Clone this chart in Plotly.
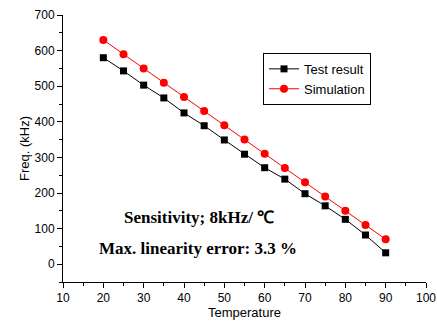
import plotly.graph_objects as go

temperature = [20, 25, 30, 35, 40, 45, 50, 55, 60, 65, 70, 75, 80, 85, 90]
test_result = [580, 543, 503, 467, 425, 389, 349, 309, 271, 239, 198, 164, 126, 82, 32]
simulation = [630, 590, 550, 510, 470, 430, 390, 350, 310, 270, 230, 190, 150, 110, 70]
x_ticks = [10, 20, 30, 40, 50, 60, 70, 80, 90, 100]
y_ticks = [0, 100, 200, 300, 400, 500, 600, 700]

fig = go.Figure()
fig.add_trace(go.Scatter(x=temperature, y=test_result, mode="lines+markers", name="Test result",
                         line=dict(color="black", width=1),
                         marker=dict(symbol="square", size=7, color="black")))
fig.add_trace(go.Scatter(x=temperature, y=simulation, mode="lines+markers", name="Simulation",
                         line=dict(color="red", width=1),
                         marker=dict(symbol="circle", size=8, color="red")))

axis_font = dict(family="Liberation Sans, Arial", size=12, color="black")
title_font = dict(family="Liberation Sans, Arial", size=13, color="black")
fig.update_layout(
    width=437, height=323,
    margin=dict(l=63, r=11, t=15, b=41),
    paper_bgcolor="white", plot_bgcolor="white",
    showlegend=True,
    legend=dict(x=0.551, y=0.858, xanchor="left", yanchor="top",
                bgcolor="white", bordercolor="black", borderwidth=1,
                font=dict(family="Liberation Sans, Arial", size=13, color="black"),
                tracegroupgap=0, itemwidth=30),
    xaxis=dict(range=[10, 100], tickvals=x_ticks, showline=True, linecolor="black", linewidth=1,
               ticks="outside", ticklen=5, tickcolor="black", showgrid=False, zeroline=False,
               tickfont=axis_font, automargin=False,
               minor=dict(dtick=5, ticks="outside", ticklen=3, tickcolor="black", showgrid=False),
               title=dict(text="Temperature", font=title_font, standoff=3)),
    yaxis=dict(range=[-50, 700], tickvals=y_ticks, showline=True, linecolor="black", linewidth=1,
               ticks="outside", ticklen=5, tickcolor="black", showgrid=False, zeroline=False,
               tickfont=axis_font, automargin=False,
               minor=dict(tick0=0, dtick=50, ticks="outside", ticklen=3, tickcolor="black", showgrid=False),
               title=dict(text="Freq. (kHz)", font=title_font, standoff=2)),
)

ann_font = dict(family="Liberation Serif, Times New Roman", size=17, color="black")
fig.add_annotation(x=0.163, y=0.24, xref="paper", yref="paper", xanchor="left", yanchor="middle",
                   text="<b>Sensitivity; 8kHz/ ℃</b>", showarrow=False, font=ann_font)
fig.add_annotation(x=0.094, y=0.127, xref="paper", yref="paper", xanchor="left", yanchor="middle",
                   text="<b>Max. linearity error: 3.3 %</b>", showarrow=False, font=ann_font)

fig.write_html("out.html")
